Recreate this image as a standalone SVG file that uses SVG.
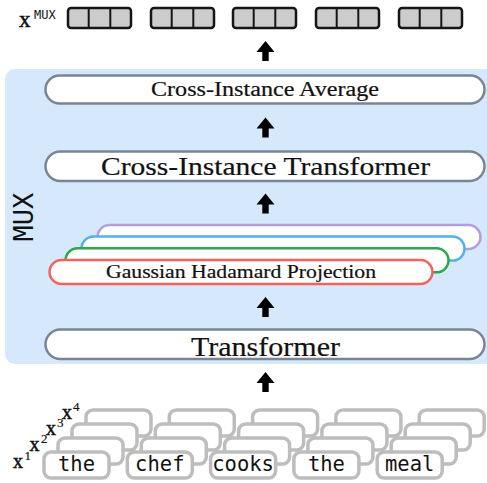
<svg xmlns="http://www.w3.org/2000/svg" xmlns:xlink="http://www.w3.org/1999/xlink" width="487" height="483" viewBox="0 0 487 483">
<style>
.serif{font-family:"Liberation Serif","Times New Roman",serif;fill:#111;stroke:#111;stroke-width:0.2}
.lab{font-family:"Liberation Serif","Times New Roman",serif;fill:#111;stroke:#111;stroke-width:0.5}
.mono{font-family:"DejaVu Sans Mono","Liberation Mono",monospace;fill:#111}
.pill{fill:#fff;stroke:#7a8593;stroke-width:2.5}
.proj{fill:#fff;stroke-width:2.5}
.cell{fill:#cccccc;stroke:#151515;stroke-width:2.5}
.div{stroke:#151515;stroke-width:2}
.tok{fill:#fff;stroke:#bdbdbd;stroke-width:3.5}
</style>
<defs>
<path id="arr" d="M0,0 L9,11 L3.2,11 L3.2,20 L-3.2,20 L-3.2,11 L-9,11 Z" fill="#000"/>
<g id="vec">
<rect x="1" y="8" width="63" height="20" rx="3" class="cell"/>
<line x1="21.7" y1="8" x2="21.7" y2="28" class="div"/>
<line x1="43.3" y1="8" x2="43.3" y2="28" class="div"/>
</g>
<rect id="tk" width="65" height="26" rx="7" class="tok"/>
</defs>

<g id="mux-bg">
<rect x="5" y="69" width="490" height="295" rx="10" fill="#d6e9fc"/>
<text class="mono" font-size="27" text-anchor="middle" transform="translate(33,217) rotate(-90)">MUX</text>
</g>

<g id="output">
<text class="lab" x="19" y="27" font-size="23">x</text>
<text class="mono" x="34" y="19" font-size="12">MUX</text>
<use xlink:href="#vec" x="67"/>
<use xlink:href="#vec" x="150"/>
<use xlink:href="#vec" x="232"/>
<use xlink:href="#vec" x="315"/>
<use xlink:href="#vec" x="398"/>
</g>

<g id="avg">
<rect x="45.5" y="75.5" width="439" height="28" rx="14" class="pill"/>
<text class="serif" x="265" y="96" font-size="20" text-anchor="middle" textLength="228" lengthAdjust="spacingAndGlyphs">Cross-Instance Average</text>
</g>

<g id="cit">
<rect x="45.5" y="151.5" width="439" height="29.5" rx="14.75" class="pill"/>
<text class="serif" x="265.5" y="175" font-size="26" text-anchor="middle" textLength="329" lengthAdjust="spacingAndGlyphs">Cross-Instance Transformer</text>
</g>

<g id="projection">
<rect x="97.5" y="225" width="383" height="24" rx="12" class="proj" stroke="#b49ee0"/>
<rect x="81.5" y="236.6" width="383" height="24" rx="12" class="proj" stroke="#52b1ec"/>
<rect x="65.5" y="248.3" width="383" height="24" rx="12" class="proj" stroke="#2ca84b"/>
<rect x="49.5" y="260" width="383" height="24" rx="12" class="proj" stroke="#f5625d"/>
<text class="serif" x="241" y="278" font-size="18" text-anchor="middle" textLength="270" lengthAdjust="spacingAndGlyphs">Gaussian Hadamard Projection</text>
</g>

<g id="transformer">
<rect x="45.5" y="329.5" width="439" height="29.5" rx="14.75" class="pill"/>
<text class="serif" x="265.5" y="356" font-size="27" text-anchor="middle" textLength="149" lengthAdjust="spacingAndGlyphs">Transformer</text>
</g>

<g id="connectors">
<use xlink:href="#arr" x="265.5" y="41"/>
<use xlink:href="#arr" x="265.5" y="117.5"/>
<use xlink:href="#arr" x="265.5" y="193.5"/>
<use xlink:href="#arr" x="265.5" y="297"/>
<use xlink:href="#arr" x="265.5" y="372"/>
</g>

<g id="inputs">
<g id="row4">
<use xlink:href="#tk" x="86" y="410"/>
<use xlink:href="#tk" x="169.3" y="410"/>
<use xlink:href="#tk" x="252.6" y="410"/>
<use xlink:href="#tk" x="335.9" y="410"/>
<use xlink:href="#tk" x="419.2" y="410"/>
</g>
<g id="row3">
<use xlink:href="#tk" x="72" y="424"/>
<use xlink:href="#tk" x="155.3" y="424"/>
<use xlink:href="#tk" x="238.6" y="424"/>
<use xlink:href="#tk" x="321.9" y="424"/>
<use xlink:href="#tk" x="405.2" y="424"/>
</g>
<g id="row2">
<use xlink:href="#tk" x="58" y="438"/>
<use xlink:href="#tk" x="141.3" y="438"/>
<use xlink:href="#tk" x="224.6" y="438"/>
<use xlink:href="#tk" x="307.9" y="438"/>
<use xlink:href="#tk" x="391.2" y="438"/>
</g>
<g id="row1">
<use xlink:href="#tk" x="44" y="452"/>
<use xlink:href="#tk" x="127.3" y="452"/>
<use xlink:href="#tk" x="210.6" y="452"/>
<use xlink:href="#tk" x="293.9" y="452"/>
<use xlink:href="#tk" x="377.2" y="452"/>
<text class="mono" font-size="20.5" text-anchor="middle" y="471" x="76.5">the</text>
<text class="mono" font-size="20.5" text-anchor="middle" y="471" x="159.8">chef</text>
<text class="mono" font-size="20.5" text-anchor="middle" y="471" x="243.1">cooks</text>
<text class="mono" font-size="20.5" text-anchor="middle" y="471" x="326.4">the</text>
<text class="mono" font-size="20.5" text-anchor="middle" y="471" x="409.7">meal</text>
</g>
<g id="labels">
<text class="lab" x="13" y="468" font-size="20">x</text>
<text class="serif" x="24.5" y="460" font-size="13">1</text>
<text class="lab" x="29.5" y="451" font-size="20">x</text>
<text class="serif" x="41" y="443" font-size="13">2</text>
<text class="lab" x="46" y="435" font-size="20">x</text>
<text class="serif" x="57" y="427" font-size="13">3</text>
<text class="lab" x="62" y="419" font-size="20">x</text>
<text class="serif" x="73" y="411" font-size="13">4</text>
</g>
</g>
</svg>
